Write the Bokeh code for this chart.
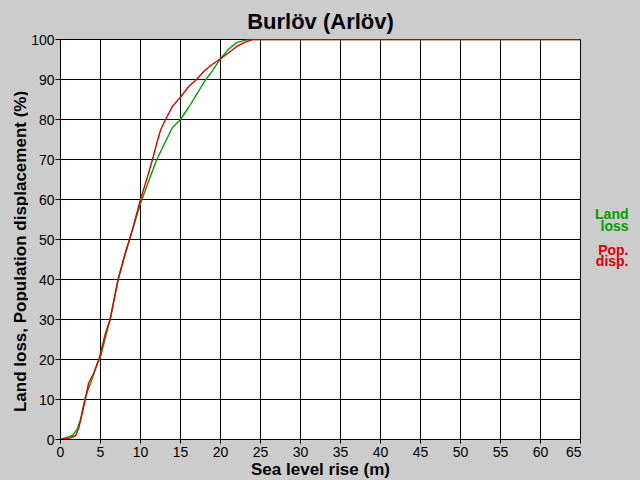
import math
from bokeh.plotting import figure
from bokeh.layouts import row
from bokeh.models import Range1d, FixedTicker
from bokeh.core.properties import value
from bokeh.embed import file_html
from bokeh.resources import INLINE

title_text = "Burlöv (Arlöv)"
x_label = "Sea level rise (m)"
y_label = "Land loss, Population displacement (%)"

x_ticks = list(range(0, 66, 5))
y_ticks = list(range(0, 101, 10))

land_x = [0, 0.6, 1.5, 2.1, 2.5, 3.1, 3.75, 4.6, 5, 5.8, 6.2, 7.2, 8, 9, 10, 11, 12, 13, 14, 15,
          16, 17, 18, 19, 20, 21, 22, 23, 23.5, 65]
land_y = [0, 0.4, 1, 2.6, 5, 10.6, 14, 19, 20.6, 27, 30, 40, 45.6, 52.5, 59, 64.5, 69.8, 74, 78, 80,
          83, 86.2, 89.5, 92.2, 95.2, 97.6, 99.2, 99.8, 100, 100]

pop_x = [0, 1.25, 1.9, 2.3, 2.7, 3.1, 3.5, 4.2, 4.8, 5.6, 6.2, 7.2, 8, 9, 10, 11, 11.5, 12, 12.5, 13,
         14, 15, 16, 17, 18, 19, 20, 21, 22, 23, 24, 65]
pop_y = [0, 0.4, 1, 3, 6.4, 10, 14, 16.8, 20, 26.4, 30, 40, 46, 52.5, 60, 66.5, 70, 73.8, 77.3, 79.5,
         83.3, 85.6, 88.2, 90, 92.2, 93.8, 95.2, 96.7, 98.2, 99.3, 100, 100]

legend_land = ["Land", "loss"]
legend_pop = ["Pop.", "disp."]

GREEN = "#00a000"
RED = "#dd0000"
BG = "#cccccc"
FONT = "Liberation Sans"
H = 480
LEFT_W = 28
RIGHT_W = 59


def side_figure(w):
    f = figure(width=w, height=H, x_range=Range1d(0, w), y_range=Range1d(H, 0),
               output_backend="svg", toolbar_location=None,
               x_axis_type=None, y_axis_type=None,
               min_border=0, min_border_left=0, min_border_right=0,
               min_border_top=0, min_border_bottom=0,
               background_fill_color=BG, border_fill_color=BG)
    f.outline_line_color = None
    f.xgrid.visible = False
    f.ygrid.visible = False
    return f


# left strip with the y-axis title
left = side_figure(LEFT_W)
left.text(x=[19.5], y=[255], text=[y_label], angle=math.pi / 2, text_align="center",
          text_baseline="middle", text_font=value(FONT), text_font_size="17px",
          text_font_style="bold", text_color="black")

# main chart
p = figure(frame_width=520, frame_height=400,
           x_range=Range1d(0, 65), y_range=Range1d(0, 100),
           output_backend="svg", toolbar_location=None,
           min_border_left=32, min_border_right=1, min_border_top=39, min_border_bottom=41,
           background_fill_color="white", border_fill_color=BG)

p.title.text = title_text
p.title.align = "center"
p.title.text_font = FONT
p.title.text_font_size = "22px"
p.title.text_font_style = "bold"
p.title.text_color = "black"
p.title.standoff = 12
p.title.offset = 0

p.outline_line_color = "black"
p.outline_line_width = 1

p.xaxis.ticker = FixedTicker(ticks=x_ticks)
p.yaxis.ticker = FixedTicker(ticks=y_ticks)
for ax in (p.xaxis, p.yaxis):
    ax.axis_line_color = "black"
    ax.major_tick_line_color = "black"
    ax.major_tick_in = 0
    ax.major_tick_out = 4
    ax.minor_tick_line_color = None
    ax.major_label_text_font = FONT
    ax.major_label_text_font_size = "14px"
    ax.major_label_text_color = "black"
    ax.major_label_standoff = 3
p.yaxis.major_tick_out = 5
p.yaxis.major_label_standoff = 1

p.xaxis.axis_label = x_label
p.xaxis.axis_label_text_font = FONT
p.xaxis.axis_label_text_font_size = "17px"
p.xaxis.axis_label_text_font_style = "bold"
p.xaxis.axis_label_text_color = "black"
p.xaxis.axis_label_standoff = 0

p.xgrid.ticker = FixedTicker(ticks=x_ticks)
p.ygrid.ticker = FixedTicker(ticks=y_ticks)
for g in (p.xgrid, p.ygrid):
    g.grid_line_color = "black"
    g.grid_line_alpha = 1.0
    g.grid_line_width = 1

p.line(land_x, land_y, line_color=GREEN, line_width=1.4)
p.line(pop_x, pop_y, line_color=RED, line_width=1.4)

# right strip with the coloured key
right = side_figure(RIGHT_W)
key_x = RIGHT_W - 12
right.text(x=[key_x, key_x], y=[210, 224], text=legend_land, text_align="right", text_baseline="middle",
           text_font=value(FONT), text_font_size="14px", text_font_style="bold", text_color=GREEN)
right.text(x=[key_x, key_x], y=[253, 266], text=legend_pop, text_align="right", text_baseline="middle",
           text_font=value(FONT), text_font_size="14px", text_font_style="bold", text_color=RED)

layout = row(left, p, right, spacing=0)
layout.styles = {"background-color": BG}

open("out.html", "w").write(file_html(layout, INLINE))
